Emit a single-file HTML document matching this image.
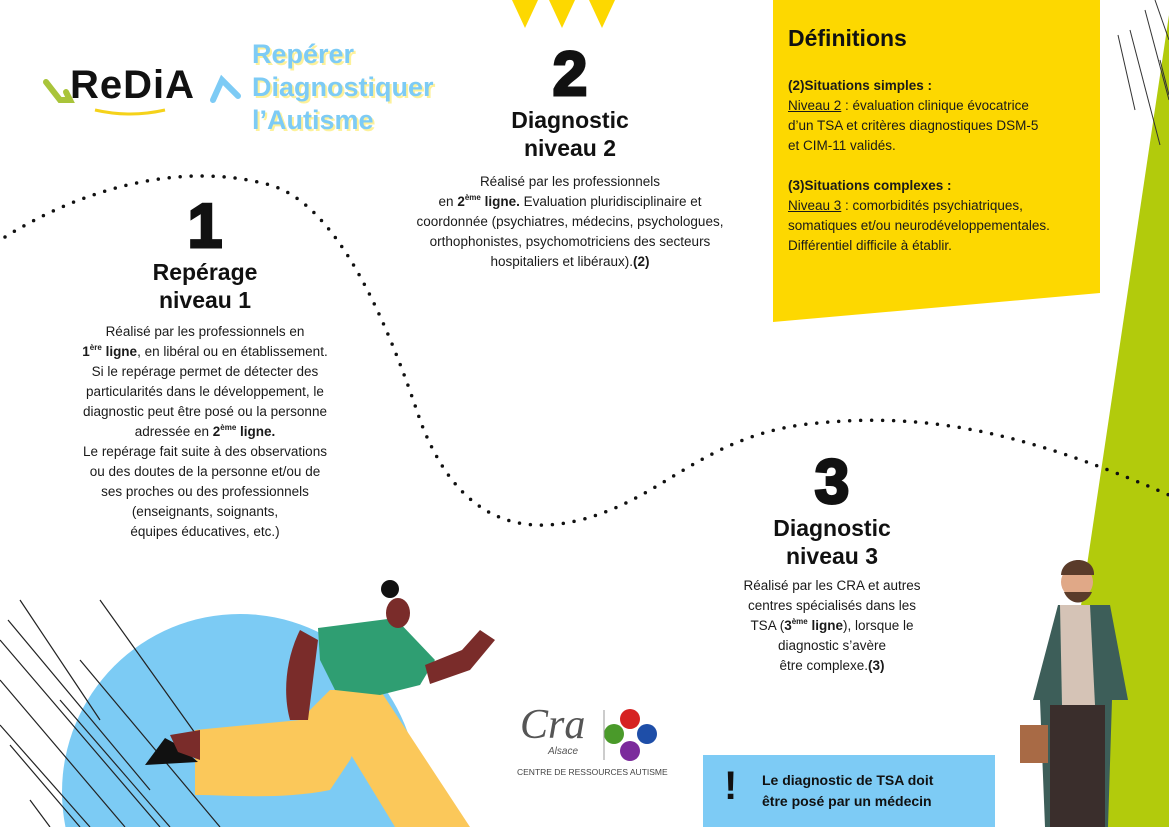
<!DOCTYPE html>
<html style="width:1169px;height:827px;overflow:hidden"><head><meta charset="utf-8">
<style>
*{margin:0;padding:0;box-sizing:border-box}
body{width:1169px;height:827px;position:relative;overflow:hidden;background:#fff;font-family:"Liberation Sans",sans-serif;color:#1a1a1a}
.a{position:absolute}
.num{position:absolute;font-family:"Liberation Sans",sans-serif;font-weight:900;font-size:62px;line-height:1;text-align:center;color:#111;-webkit-text-stroke:3px #111}
.h{position:absolute;font-weight:bold;font-size:23px;line-height:28px;text-align:center;color:#111}
.t{position:absolute;font-size:13.5px;line-height:20px;text-align:center;white-space:nowrap;color:#1a1a1a}
sup{font-size:8px;font-weight:bold;vertical-align:6px;line-height:0}
.def{font-size:13.5px;line-height:20px;color:#1a1a1a}
</style></head><body>
<svg class="a" style="left:0;top:0;display:block" width="1169" height="827">
 <polygon points="1169,15 1169,827 1048,827" fill="#b2cb0c"/>
 <g stroke="#333" stroke-width="1">
  <line x1="1118" y1="35" x2="1135" y2="110"/><line x1="1130" y1="30" x2="1160" y2="145"/>
  <line x1="1145" y1="10" x2="1169" y2="100"/><line x1="1155" y1="0" x2="1169" y2="40"/>
  <line x1="1160" y1="60" x2="1169" y2="95"/>
 </g>
 <polygon points="773,0 1100,0 1100,293 773,322" fill="#fdd800"/>
 <circle cx="240" cy="792" r="178" fill="#7ccbf4"/>
 <g stroke="#222" stroke-width="1.2">
  <line x1="20" y1="600" x2="100" y2="720"/><line x1="8" y1="620" x2="150" y2="790"/>
  <line x1="0" y1="640" x2="160" y2="827"/><line x1="0" y1="680" x2="125" y2="827"/>
  <line x1="10" y1="745" x2="80" y2="827"/><line x1="60" y1="700" x2="170" y2="827"/>
  <line x1="80" y1="660" x2="220" y2="827"/><line x1="0" y1="725" x2="90" y2="827"/>
  <line x1="30" y1="800" x2="50" y2="827"/><line x1="100" y1="600" x2="200" y2="740"/>
 </g>
 <path d="M5,237 C80,190 180,160 270,185 C340,205 390,330 420,420 C450,500 500,540 580,520 C660,500 700,440 800,425 C920,410 1020,430 1169,495" fill="none" stroke="#111" stroke-width="3.5" stroke-linecap="round" stroke-dasharray="0 11"/>
 <polygon points="512,0 538,0 525,28" fill="#fdd800"/><polygon points="549,0 575,0 562,28" fill="#fdd800"/><polygon points="589,0 615,0 602,28" fill="#fdd800"/>
 <path d="M195,730 L300,720 L330,690 L380,690 L350,760 L330,790 C280,800 230,795 195,795Z" fill="#fbc85a"/>
 <path d="M330,690 L380,690 L470,827 L395,827 L345,745Z" fill="#fbc85a"/>
 <path d="M145,765 L165,738 L178,745 L198,762Z" fill="#111"/>
 <path d="M170,735 L200,730 L200,760 L178,752Z" fill="#7a2c2a"/>
 <path d="M300,630 C285,660 283,695 290,720 L308,720 L318,640Z" fill="#7a2c2a"/>
 <path d="M318,628 L395,618 L435,660 L420,685 L380,695 L335,690 L320,660Z" fill="#2f9e72"/>
 <path d="M425,665 L462,650 L480,630 L495,640 L470,670 L430,684Z" fill="#7a2c2a"/>
 <circle cx="390" cy="589" r="9" fill="#111"/>
 <ellipse cx="398" cy="613" rx="12" ry="15" fill="#7a2c2a"/>
 <path d="M1058,605 L1110,605 L1128,700 L1112,700 L1108,827 L1045,827 L1040,700 L1033,700Z" fill="#3d5e59"/>
 <path d="M1060,605 L1090,605 L1095,705 L1062,705Z" fill="#d5c3b6"/>
 <rect x="1050" y="705" width="55" height="122" fill="#3a2e2c"/>
 <rect x="1020" y="725" width="28" height="38" fill="#a86a45"/>
 <circle cx="1077" cy="582" r="16" fill="#e0a887"/><path d="M1061,575 C1062,555 1095,555 1094,575Z" fill="#5a3b2a"/>
 <path d="M1064,592 C1070,606 1086,606 1092,592Z" fill="#5a3b2a"/>
 <circle cx="630" cy="719" r="10" fill="#d62222"/><circle cx="614" cy="734" r="10" fill="#4a9a2a"/>
 <circle cx="647" cy="734" r="10" fill="#1e4ea8"/><circle cx="630" cy="751" r="10" fill="#7b2b9c"/>
 <line x1="604" y1="710" x2="604" y2="760" stroke="#999"/>
 <path d="M46,82 L60,100 L70,100 L66,92" fill="none" stroke="#a9c43a" stroke-width="6" stroke-linecap="round"/>
 <path d="M213,100 L222,80 L238,96" fill="none" stroke="#7dcbf5" stroke-width="6" stroke-linecap="round"/>
 <path d="M95,110 Q130,118 165,110" fill="none" stroke="#f5d21a" stroke-width="3"/>
</svg>
<div class="a" style="left:70px;top:63px;font-size:40px;line-height:44px;font-weight:bold;color:#111;letter-spacing:1px">ReDiA</div>
<div class="a" style="left:252px;top:38px;font-size:27px;line-height:33px;font-weight:bold;color:#7dcbf5;text-shadow:2px 2px 0 #fdf19a">Repérer<br>Diagnostiquer<br>l’Autisme</div>
<div class="a" style="left:520px;top:704px;font-family:'Liberation Serif',serif;font-style:italic;font-size:42px;line-height:42px;color:#555">Cra</div>
<div class="a" style="left:548px;top:746px;font-size:10px;line-height:12px;font-style:italic;color:#555">Alsace</div>
<div class="a" style="left:517px;top:767px;font-size:8.5px;line-height:10px;color:#444">CENTRE DE RESSOURCES AUTISME</div>

<div class="num" style="left:155px;top:196px;width:100px">1</div>
<div class="h" style="left:105px;top:258px;width:200px">Repérage<br>niveau 1</div>
<div class="t" style="left:30px;top:322px;width:350px">Réalisé par les professionnels en<br><b>1<sup>ère</sup> ligne</b>, en libéral ou en établissement.<br>Si le repérage permet de détecter des<br>particularités dans le développement, le<br>diagnostic peut être posé ou la personne<br>adressée en <b>2<sup>ème</sup> ligne.</b><br>Le repérage fait suite à des observations<br>ou des doutes de la personne et/ou de<br>ses proches ou des professionnels<br>(enseignants, soignants,<br>équipes éducatives, etc.)</div>

<div class="num" style="left:520px;top:44px;width:100px">2</div>
<div class="h" style="left:470px;top:106px;width:200px">Diagnostic<br>niveau 2</div>
<div class="t" style="left:390px;top:172px;width:360px">Réalisé par les professionnels<br>en <b>2<sup>ème</sup> ligne.</b> Evaluation pluridisciplinaire et<br>coordonnée (psychiatres, médecins, psychologues,<br>orthophonistes, psychomotriciens des secteurs<br>hospitaliers et libéraux).<b>(2)</b></div>

<div class="num" style="left:782px;top:452px;width:100px">3</div>
<div class="h" style="left:732px;top:514px;width:200px">Diagnostic<br>niveau 3</div>
<div class="t" style="left:712px;top:576px;width:240px">Réalisé par les CRA et autres<br>centres spécialisés dans les<br>TSA (<b>3<sup>ème</sup> ligne</b>), lorsque le<br>diagnostic s’avère<br>être complexe.<b>(3)</b></div>

<div class="a" style="left:788px;top:25px;font-size:23px;font-weight:bold;color:#111">Définitions</div>
<div class="a def" style="left:788px;top:76px;white-space:nowrap"><b>(2)Situations simples :</b><br><u>Niveau 2</u> : évaluation clinique évocatrice<br>d’un TSA et critères diagnostiques DSM-5<br>et CIM-11 validés.<br><br><b>(3)Situations complexes :</b><br><u>Niveau 3</u> : comorbidités psychiatriques,<br>somatiques et/ou neurodéveloppementales.<br>Différentiel difficile à établir.</div>

<div class="a" style="left:703px;top:755px;width:292px;height:72px;background:#7dcbf5"></div>
<div class="a" style="left:724px;top:764px;font-size:40px;line-height:44px;font-weight:900;color:#111">!</div>
<div class="a" style="left:762px;top:770px;font-size:14px;line-height:21px;font-weight:bold;color:#111">Le diagnostic de TSA doit<br>être posé par un médecin</div>
</body></html>
